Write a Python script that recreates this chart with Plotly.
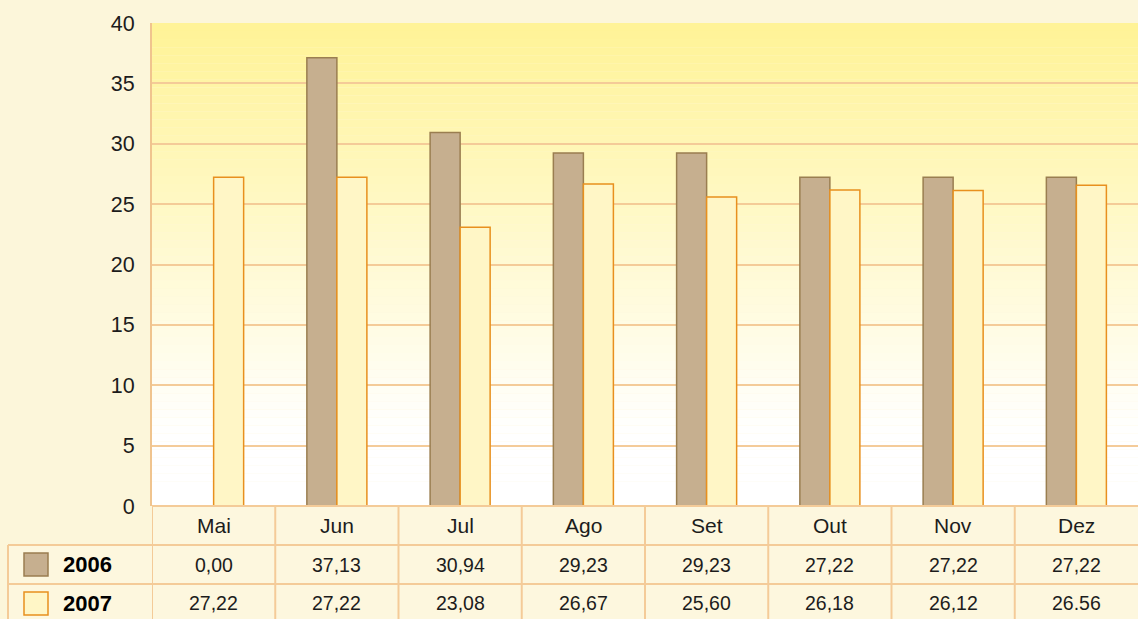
import plotly.graph_objects as go

months = ["Mai", "Jun", "Jul", "Ago", "Set", "Out", "Nov", "Dez"]
series_names = ["2006", "2007"]
values_2006 = [0.00, 37.13, 30.94, 29.23, 29.23, 27.22, 27.22, 27.22]
values_2007 = [27.22, 27.22, 23.08, 26.67, 25.60, 26.18, 26.12, 26.56]
labels_2006 = ["0,00", "37,13", "30,94", "29,23", "29,23", "27,22", "27,22", "27,22"]
labels_2007 = ["27,22", "27,22", "23,08", "26,67", "25,60", "26,18", "26,12", "26.56"]
y_ticks = [0, 5, 10, 15, 20, 25, 30, 35, 40]

FONT = "Liberation Sans, Arial, Helvetica, sans-serif"
GRID = "#F4CB98"
TXT = "#1c1c1c"
fill_2006, line_2006 = "#C6AF8F", "#9A7E50"
fill_2007, line_2007 = "#FFF6C6", "#E8901E"

fig = go.Figure()
fig.add_trace(go.Bar(x=months, y=values_2006, name=series_names[0],
                     marker=dict(color=fill_2006, line=dict(color=line_2006, width=1.5))))
fig.add_trace(go.Bar(x=months, y=values_2007, name=series_names[1],
                     marker=dict(color=fill_2007, line=dict(color=line_2007, width=1.5))))

shapes = []
# plot area gradient
N = 60
top = (255, 243, 150)
for i in range(N):
    y0 = 1 - (i + 1) / N
    y1 = 1 - i / N
    t = min(1.0, (i + 0.5) / (N * 0.85))
    c = tuple(int(round(top[k] + (255 - top[k]) * t)) for k in range(3))
    shapes.append(dict(type="rect", xref="x domain", yref="y domain", x0=0, x1=1, y0=y0, y1=y1,
                       fillcolor="rgb(%d,%d,%d)" % c, line=dict(width=0), layer="below"))

# table geometry (paper y, relative to plot area height)
H = 483.0
r0 = 0.0
r1 = -39 / H
r2 = -78 / H
r3 = -120 / H
left = (8 - 152) / 986.0
shapes.append(dict(type="rect", xref="x domain", yref="paper", x0=0, x1=1, y0=r1, y1=r0,
                   fillcolor="#FDF7DE", line=dict(width=0), layer="below"))
shapes.append(dict(type="rect", xref="x domain", yref="paper", x0=left, x1=1, y0=r3, y1=r1,
                   fillcolor="#FDF7DE", line=dict(width=0), layer="below"))
shapes.append(dict(type="line", xref="x domain", yref="paper", x0=0, x1=1, y0=r0, y1=r0,
                   line=dict(color=GRID, width=2)))
for yy in (r1, r2):
    shapes.append(dict(type="line", xref="x domain", yref="paper", x0=left, x1=1, y0=yy, y1=yy,
                       line=dict(color=GRID, width=2)))
shapes.append(dict(type="line", xref="x domain", yref="paper", x0=left, x1=left, y0=r3, y1=r1,
                   line=dict(color=GRID, width=2)))
for i in range(len(months)):
    shapes.append(dict(type="line", xref="x", yref="paper", x0=i - 0.5, x1=i - 0.5, y0=r3, y1=r0,
                       line=dict(color=GRID, width=2)))
sw_x0 = (24 - 152) / 986.0
sw_x1 = (48 - 152) / 986.0
row2_mid = (r1 + r2) / 2
row3_mid = (r2 + r3 + 3 / H) / 2
for mid, fc, lc in [(row2_mid, fill_2006, line_2006), (row3_mid, fill_2007, line_2007)]:
    shapes.append(dict(type="rect", xref="x domain", yref="paper", x0=sw_x0, x1=sw_x1,
                       y0=mid - 11.5 / H, y1=mid + 11.5 / H, fillcolor=fc, line=dict(color=lc, width=1.5)))

annotations = []
for i, m in enumerate(months):
    annotations.append(dict(x=m, xref="x", y=(r0 + r1) / 2, yref="paper", text=m, showarrow=False,
                            font=dict(size=21, color=TXT, family=FONT), yanchor="middle"))
    annotations.append(dict(x=m, xref="x", y=row2_mid, yref="paper", text=labels_2006[i], showarrow=False,
                            font=dict(size=19.5, color=TXT, family=FONT), yanchor="middle"))
    annotations.append(dict(x=m, xref="x", y=row3_mid, yref="paper", text=labels_2007[i], showarrow=False,
                            font=dict(size=19.5, color=TXT, family=FONT), yanchor="middle"))
lab_x = (61 - 152) / 986.0
annotations.append(dict(x=lab_x, xref="x domain", y=row2_mid, yref="paper", text="<b>%s</b>" % series_names[0],
                        showarrow=False, xanchor="left", yanchor="middle", font=dict(size=22, color="#000", family=FONT)))
annotations.append(dict(x=lab_x, xref="x domain", y=row3_mid, yref="paper", text="<b>%s</b>" % series_names[1],
                        showarrow=False, xanchor="left", yanchor="middle", font=dict(size=22, color="#000", family=FONT)))

fig.update_layout(
    width=1138, height=619,
    margin=dict(l=152, r=0, t=23, b=113),
    paper_bgcolor="#FCF6DA",
    plot_bgcolor="rgba(0,0,0,0)",
    barmode="group", bargap=0.513, bargroupgap=0,
    showlegend=False,
    shapes=shapes, annotations=annotations,
    font=dict(family=FONT),
    xaxis=dict(range=[-0.5, 7.5], showticklabels=False, showgrid=False, zeroline=False,
               showline=False, fixedrange=True),
    yaxis=dict(range=[0, 40], tickvals=y_ticks, showgrid=True, gridcolor=GRID, gridwidth=1.5,
               zeroline=False, showline=True, linecolor="#F0C48E", linewidth=2,
               tickfont=dict(size=21.5, color=TXT, family=FONT), ticklabelstandoff=11,
               fixedrange=True),
)

fig.write_html("out.html", config={"displayModeBar": False},
               post_script="document.body.style.margin='0';document.body.style.overflow='hidden';")
